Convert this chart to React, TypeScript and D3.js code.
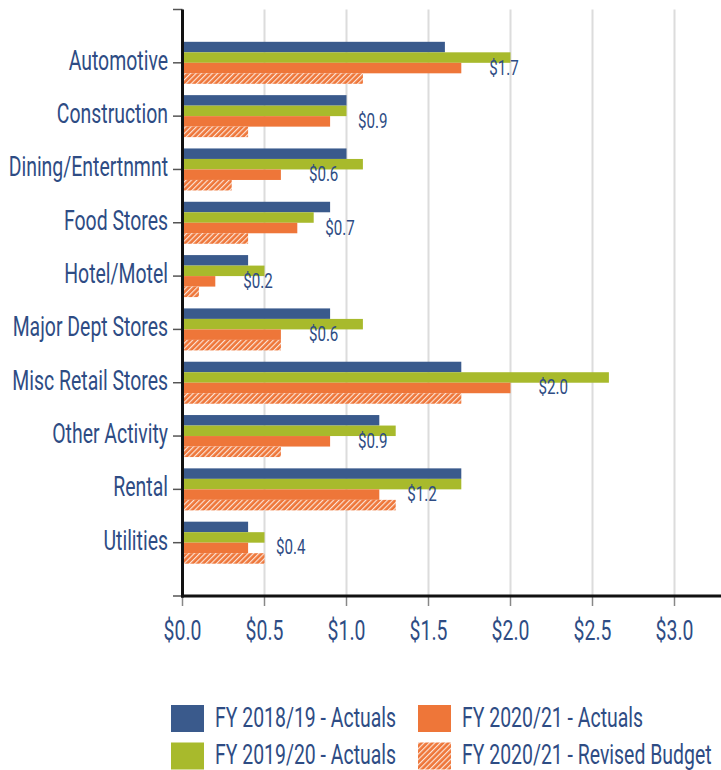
import React from "react";
import * as d3 from "d3";

const categories = [
  "Automotive",
  "Construction",
  "Dining/Entertnmnt",
  "Food Stores",
  "Hotel/Motel",
  "Major Dept Stores",
  "Misc Retail Stores",
  "Other Activity",
  "Rental",
  "Utilities",
];
const fy1819 = [1.6, 1.0, 1.0, 0.9, 0.4, 0.9, 1.7, 1.2, 1.7, 0.4];
const fy1920 = [2.0, 1.0, 1.1, 0.8, 0.5, 1.1, 2.6, 1.3, 1.7, 0.5];
const fy2021 = [1.7, 0.9, 0.6, 0.7, 0.2, 0.6, 2.0, 0.9, 1.2, 0.4];
const fy2021Budget = [1.1, 0.4, 0.3, 0.4, 0.1, 0.6, 1.7, 0.6, 1.3, 0.5];
const xTicks = [0, 0.5, 1.0, 1.5, 2.0, 2.5, 3.0];
const seriesNames = [
  "FY 2018/19 - Actuals",
  "FY 2019/20 - Actuals",
  "FY 2020/21 - Actuals",
  "FY 2020/21 - Revised Budget",
];

const BLUE = "#3A5A8C";
const GREEN = "#A8BA2C";
const ORANGE = "#EE7639";
const TEXT = "#2E4C84";
const FONT = "Roboto, 'Noto Sans', sans-serif";
const SX = 0.72;

export default function App() {
  const W = 721;
  const H = 770;
  const x = d3.scaleLinear().domain([0, 3.5]).range([182.5, 182.5 + 3.5 * 164]);
  const yIdx = d3.scaleLinear().domain([0, 11]).range([9.5, 596]);
  const yCat = (i: number) => yIdx(i + 1);
  const inner = d3.scaleBand<number>().domain([0, 1, 2, 3]).range([-21, 21]).padding(0);

  const series = [
    { name: seriesNames[0], values: fy1819, fill: BLUE },
    { name: seriesNames[1], values: fy1920, fill: GREEN },
    { name: seriesNames[2], values: fy2021, fill: ORANGE },
    { name: seriesNames[3], values: fy2021Budget, fill: "url(#hatch)" },
  ];
  const fmt = (v: number) => "$" + d3.format(".1f")(v);

  const txt = (
    key: string,
    s: string,
    tx: number,
    ty: number,
    size: number,
    anchor: "start" | "middle" | "end"
  ) => (
    <text
      key={key}
      transform={`translate(${tx},${ty}) scale(${SX},1)`}
      textAnchor={anchor}
      fontFamily={FONT}
      fontSize={size}
      fill={TEXT}
    >
      {s}
    </text>
  );

  const legend = [
    { s: series[0], lx: 171, ly: 705 },
    { s: series[2], lx: 418, ly: 705 },
    { s: series[1], lx: 171, ly: 742.5 },
    { s: series[3], lx: 418, ly: 742.5 },
  ];

  return (
    <svg
      width={W}
      height={H}
      style={{ position: "absolute", left: 0, top: 0, background: "#fff" }}
    >
      <defs>
        <pattern
          id="hatch"
          patternUnits="userSpaceOnUse"
          width={3.8}
          height={3.8}
          patternTransform="rotate(45)"
        >
          <rect width={3.8} height={3.8} fill={ORANGE} />
          <line x1={0.6} y1={0} x2={0.6} y2={3.8} stroke="#fff" strokeWidth={1.1} strokeOpacity={0.85} />
        </pattern>
      </defs>

      {/* grid */}
      {xTicks.slice(1).map((t) => (
        <line key={"g" + t} x1={x(t)} x2={x(t)} y1={yIdx(0)} y2={yIdx(11)} stroke="#dcdcdc" strokeWidth={2} />
      ))}

      {/* bars */}
      {categories.map((c, i) =>
        series.map((s, k) => (
          <rect
            key={c + k}
            x={x(0)}
            y={yCat(i) + (inner(k) as number)}
            width={x(s.values[i]) - x(0)}
            height={inner.bandwidth()}
            fill={s.fill}
          />
        ))
      )}

      {/* value labels */}
      {categories.map((c, i) =>
        txt("v" + c, fmt(fy2021[i]), x(fy2021[i]) + 28, yCat(i) + (inner(2) as number) + inner.bandwidth() / 2 + 6.5, 21, "start")
      )}

      {/* y ticks */}
      {d3.range(0, 12).map((k) => (
        <line key={"yt" + k} x1={173} x2={182.5} y1={yIdx(k)} y2={yIdx(k)} stroke="#555" strokeWidth={1.5} />
      ))}
      {categories.map((c, i) => txt("c" + c, c, 168, yCat(i) + 7, 27, "end"))}

      {/* x ticks */}
      {xTicks.map((t) => (
        <line key={"xt" + t} x1={x(t)} x2={x(t)} y1={596} y2={606} stroke="#888" strokeWidth={1.5} />
      ))}
      {xTicks.map((t) => txt("xl" + t, fmt(t), x(t), 640, 27, "middle"))}

      {/* axes */}
      <line x1={182.5} x2={182.5} y1={yIdx(0)} y2={597.5} stroke="#111" strokeWidth={3} />
      <line x1={181} x2={W} y1={596} y2={596} stroke="#111" strokeWidth={3} />

      {/* legend */}
      {legend.map((l) => (
        <g key={"lg" + l.s.name}>
          <rect x={l.lx} y={l.ly} width={33} height={27} fill={l.s.fill} />
          {txt("lt" + l.s.name, l.s.name, l.lx + 44, l.ly + 21.5, 27, "start")}
        </g>
      ))}
    </svg>
  );
}
